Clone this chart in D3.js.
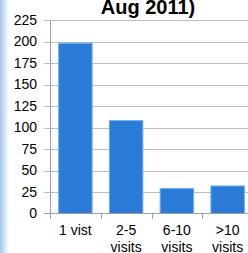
<!DOCTYPE html>
<html lang="en">
<head>
    <meta charset="UTF-8">
    <title>Visits chart</title>
    <style>
        body { margin: 0; background: #fff; }
        text { font-family: "Liberation Sans", Arial, sans-serif; fill: #000; }
    </style>
</head>
<body>
    <script src="https://d3js.org/d3.v7.min.js"></script>
    <script>
        const categories = ["1 vist", "2-5 visits", "6-10 visits", ">10 visits"];
        const values = [198, 108, 29, 32];
        const yTicks = [0, 25, 50, 75, 100, 125, 150, 175, 200, 225];

        const width = 248;
        const height = 253;

        const svg = d3.select("body")
            .append("svg")
            .attr("width", width)
            .attr("height", height);

        // light blue strip on the left edge
        const grad = svg.append("defs").append("linearGradient")
            .attr("id", "strip")
            .attr("x1", 0).attr("x2", 1).attr("y1", 0).attr("y2", 0);
        grad.append("stop").attr("offset", 0).attr("stop-color", "#a6c6ee");
        grad.append("stop").attr("offset", 1).attr("stop-color", "#ffffff");
        svg.append("rect")
            .attr("x", 0).attr("y", 0)
            .attr("width", 9).attr("height", height)
            .attr("fill", "url(#strip)");

        const x = d3.scaleBand()
            .domain(categories)
            .range([50, 253])
            .paddingInner(0.34)
            .paddingOuter(0.17);

        const y = d3.scaleLinear()
            .domain([0, 225])
            .range([213.5, 20]);

        // gridlines
        svg.append("g")
            .selectAll("line")
            .data(yTicks.filter(d => d > 0))
            .join("line")
            .attr("x1", 44)
            .attr("x2", width)
            .attr("y1", d => Math.round(y(d)) + 0.5)
            .attr("y2", d => Math.round(y(d)) + 0.5)
            .attr("stroke", "#bdbdbd")
            .attr("stroke-width", 1);

        // y labels
        svg.append("g")
            .selectAll("text")
            .data(yTicks)
            .join("text")
            .attr("x", 37)
            .attr("y", d => y(d))
            .attr("dy", "0.35em")
            .attr("text-anchor", "end")
            .style("font-size", "14px")
            .text(d => d);

        // bars
        svg.append("g")
            .selectAll("rect")
            .data(values)
            .join("rect")
            .attr("x", (d, i) => x(categories[i]))
            .attr("y", d => y(d))
            .attr("width", x.bandwidth())
            .attr("height", d => y(0) - y(d))
            .attr("fill", "#2a7bd8")
            .attr("stroke", "#6fb0ee")
            .attr("stroke-width", 1);

        // axes lines
        svg.append("line")
            .attr("x1", 50.5).attr("x2", 50.5)
            .attr("y1", 20).attr("y2", 219)
            .attr("stroke", "#a0a0a0");
        svg.append("line")
            .attr("x1", 44).attr("x2", width)
            .attr("y1", 213.5).attr("y2", 213.5)
            .attr("stroke", "#a0a0a0");

        // category ticks
        const step = x.step();
        svg.append("g")
            .selectAll("line")
            .data(categories)
            .join("line")
            .attr("x1", (d, i) => Math.round(50 + step * i) + 0.5)
            .attr("x2", (d, i) => Math.round(50 + step * i) + 0.5)
            .attr("y1", 213.5)
            .attr("y2", 219)
            .attr("stroke", "#a0a0a0");

        // category labels
        const labels = svg.append("g")
            .selectAll("text")
            .data(categories)
            .join("text")
            .attr("x", d => x(d) + x.bandwidth() / 2)
            .attr("y", 235)
            .attr("text-anchor", "middle")
            .style("font-size", "14px");
        labels.each(function(d) {
            const parts = d === "1 vist" ? [d] : d.split(" ");
            d3.select(this).selectAll("tspan")
                .data(parts)
                .join("tspan")
                .attr("x", x(d) + x.bandwidth() / 2)
                .attr("dy", (p, j) => j === 0 ? 0 : 16.5)
                .text(p => p);
        });

        // title (cut off at the top)
        svg.append("text")
            .attr("x", 148)
            .attr("y", 14)
            .attr("text-anchor", "middle")
            .style("font-size", "20px")
            .style("font-weight", "bold")
            .text("Aug 2011)");
    </script>
</body>
</html>
